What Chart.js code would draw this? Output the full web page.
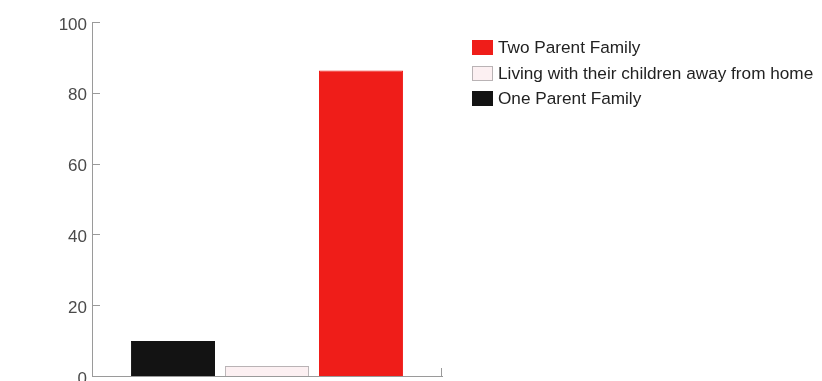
<!DOCTYPE html>
<html>
<head>
<meta charset="utf-8">
<script src="https://cdn.jsdelivr.net/npm/chart.js@4"></script>
<style>
  html, body { margin: 0; padding: 0; background: #fff; }
  #wrap { position: relative; width: 822px; height: 381px; overflow: hidden; }
  #legend { position: absolute; left: 472px; top: 35px; font: 17.2px "Liberation Sans", Arial, sans-serif; color: #222; }
  #legend div { height: 25.7px; line-height: 25px; white-space: nowrap; }
  #legend span { display: inline-block; width: 21px; height: 15px; vertical-align: -2px; margin-right: 5px; box-sizing: border-box; }
</style>
</head>
<body>
<div id="wrap">
  <canvas id="chart" width="822" height="395"></canvas>
  <div id="legend"></div>
</div>
<script>
// household types, drawn left to right
const seriesNames = ['One Parent Family', 'Living with their children away from home', 'Two Parent Family'];
const seriesValues = [9.9, 2.8, 86.3];
const seriesColors = ['#131313', '#fcf0f2', '#ef1d19'];
const seriesBorders = ['#131313', '#b9b3b5', '#ef1d19'];
const yTicks = [0, 20, 40, 60, 80, 100];

const axisGray = '#9a9a9a';

// short inward tick marks on the left axis, plus the closing tick at the right end
const innerTicks = {
    id: 'innerTicks',
    afterDraw(chart) {
        const ctx = chart.ctx;
        const area = chart.chartArea;
        const y = chart.scales.y;
        ctx.save();
        ctx.strokeStyle = axisGray;
        ctx.lineWidth = 1;
        ctx.beginPath();
        yTicks.forEach(v => {
            const py = Math.round(y.getPixelForValue(v)) + 0.5;
            ctx.moveTo(area.left, py);
            ctx.lineTo(area.left + 8, py);
        });
        ctx.moveTo(Math.round(area.right) - 0.5, area.bottom);
        ctx.lineTo(Math.round(area.right) - 0.5, area.bottom - 8);
        ctx.stroke();
        ctx.restore();
    }
};

new Chart(document.getElementById('chart'), {
    type: 'bar',
    data: {
        labels: [''],
        datasets: seriesNames.map((name, i) => ({
            label: name,
            data: [seriesValues[i]],
            backgroundColor: seriesColors[i],
            borderColor: seriesBorders[i],
            borderWidth: 1,
            barPercentage: 0.894,
            categoryPercentage: 0.806
        }))
    },
    options: {
        responsive: false,
        animation: false,
        layout: { padding: { left: 0, right: 380, top: 22, bottom: 19 } },
        plugins: { legend: { display: false }, tooltip: { enabled: false } },
        scales: {
            x: {
                grid: { display: false, drawTicks: false },
                border: { display: true, color: axisGray },
                ticks: { display: false },
                afterFit(scale) { scale.height = 0; }
            },
            y: {
                min: 0,
                max: 100,
                afterBuildTicks(scale) { scale.ticks = yTicks.map(v => ({ value: v })); },
                grid: { display: false, drawTicks: false },
                border: { display: true, color: axisGray },
                ticks: {
                    padding: 5,
                    labelOffset: 3,
                    color: '#4a4a4a',
                    font: { family: '"Liberation Sans", Arial, sans-serif', size: 17 }
                },
                afterFit(scale) { scale.width = 92; }
            }
        }
    },
    plugins: [innerTicks]
});

// legend lists the series top-down in reverse order
const legend = document.getElementById('legend');
seriesNames.slice().reverse().forEach((name, k) => {
    const i = seriesNames.length - 1 - k;
    const row = document.createElement('div');
    const sw = document.createElement('span');
    sw.style.background = seriesColors[i];
    sw.style.border = '1px solid ' + seriesBorders[i];
    row.appendChild(sw);
    row.appendChild(document.createTextNode(name));
    legend.appendChild(row);
});
</script>
</body>
</html>
